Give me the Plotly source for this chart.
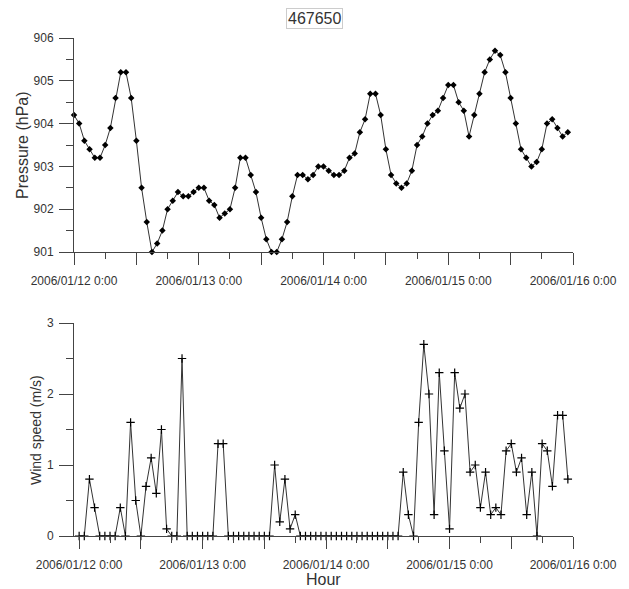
import pandas as pd
import plotly.graph_objects as go

# ---- data ----
times = pd.date_range("2006-01-12 00:00", periods=96, freq="h")

pressure = [
    904.2, 904.0, 903.6, 903.4, 903.2, 903.2, 903.5, 903.9, 904.6, 905.2,
    905.2, 904.6, 903.6, 902.5, 901.7, 901.0, 901.2, 901.5, 902.0, 902.2,
    902.4, 902.3, 902.3, 902.4, 902.5, 902.5, 902.2, 902.1, 901.8, 901.9,
    902.0, 902.5, 903.2, 903.2, 902.8, 902.4, 901.8, 901.3, 901.0, 901.0,
    901.3, 901.7, 902.3, 902.8, 902.8, 902.7, 902.8, 903.0, 903.0, 902.9,
    902.8, 902.8, 902.9, 903.2, 903.3, 903.8, 904.1, 904.7, 904.7, 904.2,
    903.4, 902.8, 902.6, 902.5, 902.6, 902.9, 903.5, 903.7, 904.0, 904.2,
    904.3, 904.6, 904.9, 904.9, 904.5, 904.3, 903.7, 904.2, 904.7, 905.2,
    905.5, 905.7, 905.6, 905.2, 904.6, 904.0, 903.4, 903.2, 903.0, 903.1,
    903.4, 904.0, 904.1, 903.9, 903.7, 903.8,
]

wind = [
    0, 0, 0.8, 0.4, 0, 0, 0, 0, 0.4, 0,
    1.6, 0.5, 0, 0.7, 1.1, 0.6, 1.5, 0.1, 0, 0,
    2.5, 0, 0, 0, 0, 0, 0, 1.3, 1.3, 0,
    0, 0, 0, 0, 0, 0, 0, 0, 1.0, 0.2,
    0.8, 0.1, 0.3, 0, 0, 0, 0, 0, 0, 0,
    0, 0, 0, 0, 0, 0, 0, 0, 0, 0,
    0, 0, 0, 0.9, 0.3, 0, 1.6, 2.7, 2.0, 0.3,
    2.3, 1.2, 0.1, 2.3, 1.8, 2.0, 0.9, 1.0, 0.4, 0.9,
    0.3, 0.4, 0.3, 1.2, 1.3, 0.9, 1.1, 0.3, 0.9, 0,
    1.3, 1.2, 0.7, 1.7, 1.7, 0.8,
]

title_text = "467650"
major_times = pd.date_range("2006-01-12 00:00", "2006-01-16 00:00", freq="12h")
major_labels = [t.strftime("%Y/%m/%d ") + "0:00" if t.hour == 0 else "" for t in major_times]
minor_times = pd.date_range("2006-01-12 06:00", "2006-01-15 18:00", freq="12h")

FONT = "Liberation Sans, Arial, sans-serif"
AXC = "#444444"
TXT = "#333333"

W, H = 629, 589
x0, x1 = 74 / W, 573 / W
top_dom = [1 - 252 / H, 1 - 38 / H]
bot_dom = [1 - 536 / H, 1 - 323 / H]
top_xr = ["2006-01-12 00:00", "2006-01-16 00:00"]
bot_xr = ["2006-01-11 23:00", "2006-01-16 00:00"]
top_yr = [901, 906]
bot_yr = [0, 3]

fig = go.Figure()
fig.add_trace(go.Scatter(
    x=times, y=pressure, mode="lines+markers",
    line=dict(color="#333333", width=1),
    marker=dict(symbol="diamond", size=5, color="black"),
    xaxis="x", yaxis="y", cliponaxis=False, showlegend=False,
))
fig.add_trace(go.Scatter(
    x=times, y=wind, mode="lines+markers",
    line=dict(color="#333333", width=1),
    marker=dict(symbol="cross-thin", size=6, line=dict(color="black", width=1.2)),
    xaxis="x2", yaxis="y2", cliponaxis=False, showlegend=False,
))
# invisible carriers so the minor-tick overlay axes get drawn
for xa, ya, yy in (("x3", "y3", pressure), ("x4", "y4", wind)):
    fig.add_trace(go.Scatter(x=times, y=yy, mode="lines", opacity=0,
                             line=dict(width=0), hoverinfo="skip",
                             xaxis=xa, yaxis=ya, showlegend=False))

xcommon = dict(
    type="date", tickmode="array", tickvals=list(major_times), ticktext=major_labels,
    ticks="outside", ticklen=12, tickcolor=AXC, tickwidth=1.3, automargin=False,
    showline=True, linecolor=AXC, linewidth=1, showgrid=False, zeroline=False,
    tickfont=dict(family=FONT, size=12, color=TXT), ticklabelstandoff=6,
)
ycommon = dict(
    ticks="outside", ticklen=14, tickcolor=AXC, tickwidth=1.3, dtick=1, automargin=False,
    showline=True, linecolor=AXC, linewidth=1, showgrid=False, zeroline=False,
    tickfont=dict(family=FONT, size=12, color=TXT), ticklabelstandoff=3,
)
xminor = dict(
    type="date", tickmode="array", tickvals=list(minor_times), showticklabels=False,
    ticks="outside", ticklen=6, tickcolor=AXC, tickwidth=1.3, automargin=False,
    showline=False, showgrid=False, zeroline=False, domain=[x0, x1],
)
yminor = dict(
    tickmode="linear", tick0=0.5, dtick=1, showticklabels=False,
    ticks="outside", ticklen=7, tickcolor=AXC, tickwidth=1.3, automargin=False,
    showline=False, showgrid=False, zeroline=False,
)

def ann(text, x, y, size, angle=0, **kw):
    return dict(text=text, x=x / W, y=1 - y / H, xref="paper", yref="paper",
                xanchor="center", yanchor="middle", showarrow=False, textangle=angle,
                font=dict(family=FONT, size=size, color=TXT), **kw)

fig.update_layout(
    width=W, height=H, margin=dict(l=0, r=0, t=0, b=0, autoexpand=False),
    paper_bgcolor="white", plot_bgcolor="white",
    font=dict(family=FONT, color=TXT),
    xaxis=dict(xcommon, domain=[x0, x1], anchor="y", range=top_xr),
    yaxis=dict(ycommon, domain=top_dom, anchor="x", range=top_yr),
    xaxis2=dict(xcommon, domain=[x0, x1], anchor="y2", range=bot_xr),
    yaxis2=dict(ycommon, domain=bot_dom, anchor="x2", range=bot_yr),
    xaxis3=dict(xminor, overlaying="x", anchor="y3", range=top_xr),
    yaxis3=dict(yminor, overlaying="y", anchor="x3", domain=top_dom, range=top_yr),
    xaxis4=dict(xminor, overlaying="x2", anchor="y4", range=bot_xr),
    yaxis4=dict(yminor, overlaying="y2", anchor="x4", domain=bot_dom, range=bot_yr),
    annotations=[
        ann(title_text, 314, 19, 16, bordercolor="#cccccc", borderwidth=1,
            borderpad=1, bgcolor="white"),
        ann("Pressure (hPa)", 22, 145, 16, -90),
        ann("Wind speed (m/s)", 36, 430, 14, -90),
        ann("Hour", 323, 579, 16),
    ],
)

fig.write_html("out.html")
